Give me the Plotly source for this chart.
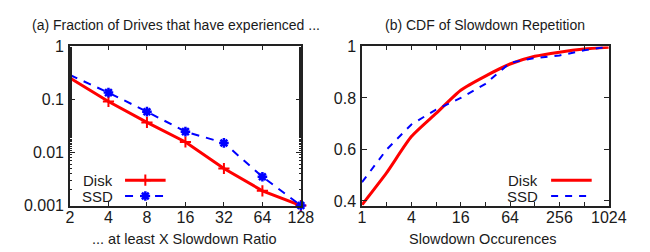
import plotly.graph_objects as go
import math

# ---- data ----
ratio = [2, 4, 8, 16, 32, 64, 128]
ratio_labels = ["2", "4", "8", "16", "32", "64", "128"]
disk_frac = [0.255, 0.092, 0.037, 0.0158, 0.005, 0.0019, 0.001]
ssd_frac = [0.29, 0.135, 0.059, 0.0248, 0.0152, 0.0035, 0.001]

occ = [1, 2, 4, 8, 16, 32, 64, 128, 256, 512, 1024]
occ_labels = ["1", "", "4", "", "16", "", "64", "", "256", "", "1024"]
disk_cdf = [0.385, 0.51, 0.65, 0.74, 0.83, 0.885, 0.932, 0.962, 0.978, 0.99, 0.997]
ssd_cdf = [0.473, 0.60, 0.697, 0.755, 0.80, 0.855, 0.937, 0.955, 0.965, 0.985, 1.0]

W, H = 650, 252
RED = "#ff0000"
BLUE = "#0000ff"
FONT = "Liberation Sans"
TXT = "#1a1a1a"
AX = "#222222"

DISK_MARK = dict(symbol="cross-thin-open", size=8, color=RED, line=dict(color=RED, width=2))
SSD_MARK = dict(symbol="asterisk-open", size=8, color=BLUE, line=dict(color=BLUE, width=2.5))

fig = go.Figure()

# left panel
fig.add_trace(go.Scatter(x=ratio, y=disk_frac, mode="lines+markers", xaxis="x", yaxis="y",
                         line=dict(color=RED, width=3), marker=DISK_MARK,
                         cliponaxis=False, showlegend=False))
fig.add_trace(go.Scatter(x=ratio, y=ssd_frac, mode="lines+markers", xaxis="x", yaxis="y",
                         line=dict(color=BLUE, width=2, dash="8px,7px"), marker=SSD_MARK,
                         cliponaxis=False, showlegend=False))
# right panel
fig.add_trace(go.Scatter(x=occ, y=disk_cdf, mode="lines", xaxis="x2", yaxis="y2",
                         line=dict(color=RED, width=3, shape="spline", smoothing=0.6), showlegend=False))
fig.add_trace(go.Scatter(x=occ, y=ssd_cdf, mode="lines", xaxis="x2", yaxis="y2",
                         line=dict(color=BLUE, width=2, dash="7px,7px"), showlegend=False))

# legend samples on a pixel overlay axis
leg = [
    (117, 159, 176, RED, 3, "solid", DISK_MARK),
    (117, 159, 193, BLUE, 2, "8px,7px", SSD_MARK),
    (558, 600, 176, RED, 3, "solid", None),
    (558, 600, 193, BLUE, 2, "7px,7px", None),
]
for x0, x1, yy, c, w, d, m in leg:
    fig.add_trace(go.Scatter(x=[x0, x1], y=[yy, yy], mode="lines", xaxis="x3", yaxis="y3",
                             line=dict(color=c, width=w, dash=d), showlegend=False, hoverinfo="skip"))
    if m is not None:
        fig.add_trace(go.Scatter(x=[(x0 + x1) / 2], y=[yy], mode="markers", xaxis="x3", yaxis="y3",
                                 marker=m, showlegend=False, hoverinfo="skip"))

def yd(top, bottom):
    return [(H - bottom) / H, (H - top) / H]

TOP, BOT = 32.7, 203.3
common = dict(showline=True, linecolor=AX, linewidth=1.5, mirror="ticks", ticks="inside",
              tickcolor=AX, tickwidth=1, showgrid=False, zeroline=False,
              tickfont=dict(family=FONT, size=16, color=TXT))

fig.update_layout(
    width=W, height=H, margin=dict(l=0, r=0, t=0, b=0),
    paper_bgcolor="white", plot_bgcolor="rgba(0,0,0,0)",
    font=dict(family=FONT, color=TXT),
    xaxis=dict(domain=[60 / W, 299 / W], type="log", range=[math.log10(2), math.log10(128)],
               tickvals=ratio, ticktext=ratio_labels, ticklen=4, ticklabelstandoff=-4, **common),
    yaxis=dict(domain=yd(TOP, BOT), type="log", range=[-3, 0],
               tickvals=[0.001, 0.01, 0.1, 1], ticktext=["0.001", "0.01", "0.1", "1"], ticklen=5,
               minor=dict(ticks="inside", ticklen=2, tickcolor=AX, showgrid=False),
               ticklabelstandoff=1, **common),
    xaxis2=dict(domain=[362.3 / W, 617.7 / W], type="log", range=[0, math.log10(1024)], anchor="y2",
                tickvals=occ, ticktext=occ_labels, ticklen=4, ticklabelstandoff=-4, **common),
    yaxis2=dict(domain=yd(TOP, BOT), range=[0.382, 1.0], anchor="x2",
                tickvals=[0.4, 0.6, 0.8, 1.0], ticktext=["0.4", "0.6", "0.8", "1"], ticklen=5,
                ticklabelstandoff=1, **common),
    xaxis3=dict(domain=[0, 1], range=[0, W], visible=False, anchor="y3", fixedrange=True),
    yaxis3=dict(domain=[0, 1], range=[H, 0], visible=False, anchor="x3", fixedrange=True),
)

ann = [
    dict(text="(a) Fraction of Drives that have experienced ...", x=170 / W, y=1 - 10 / H, size=14, xa="center"),
    dict(text="(b) CDF of Slowdown Repetition", x=489.5 / W, y=1 - 10 / H, size=14, xa="center"),
    dict(text="... at least X Slowdown Ratio", x=179 / W, y=1 - 239 / H, size=14.5, xa="center"),
    dict(text="Slowdown Occurences", x=488 / W, y=1 - 239 / H, size=14.5, xa="center"),
    dict(text="Disk", x=107 / W, y=1 - 176 / H, size=15, xa="right", h=16),
    dict(text="SSD", x=107 / W, y=1 - 193 / H, size=15, xa="right", h=16),
    dict(text="Disk", x=547 / W, y=1 - 176 / H, size=15, xa="right", h=16),
    dict(text="SSD", x=547 / W, y=1 - 193 / H, size=15, xa="right", h=16),
]
for a in ann:
    kw = {}
    if "h" in a:
        kw["height"] = a["h"]
    fig.add_annotation(text=a["text"], x=a["x"], y=a["y"], xref="paper", yref="paper",
                       xanchor=a["xa"], yanchor="middle", showarrow=False,
                       font=dict(family=FONT, size=a["size"], color=TXT), **kw)

fig.write_html("out.html")
